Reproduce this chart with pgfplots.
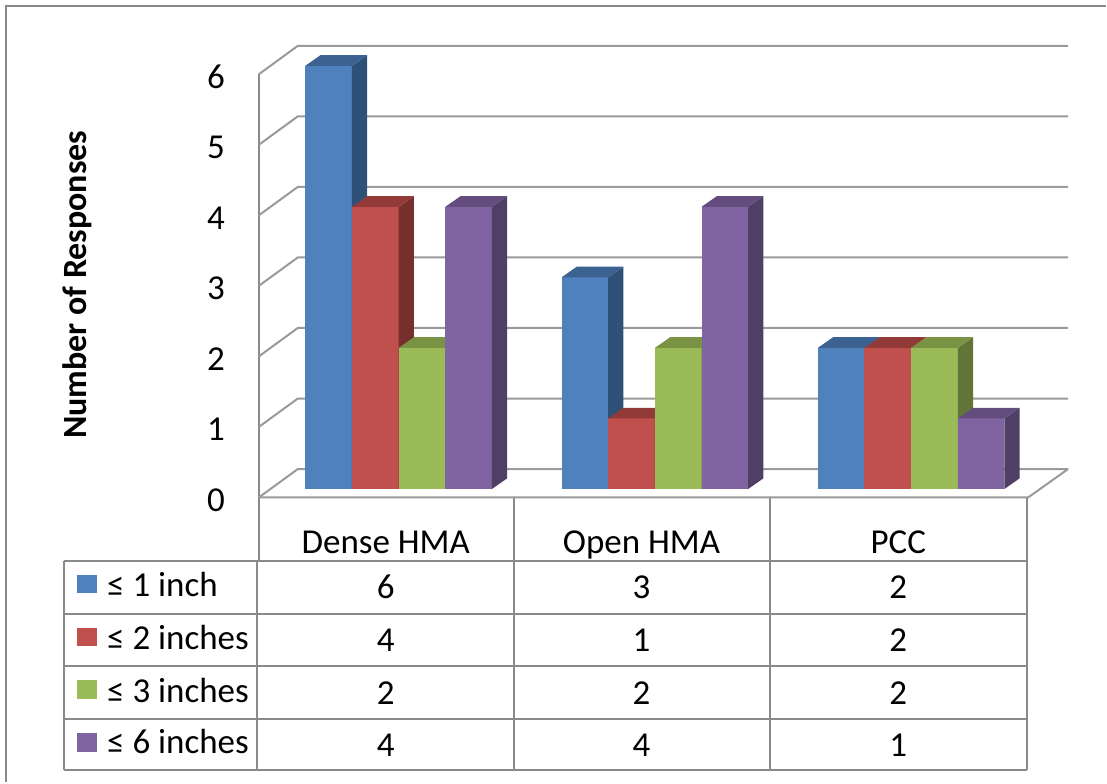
\documentclass[border=0pt]{standalone}
\usepackage{pgfplots}
\pgfplotsset{compat=1.18}
\usepackage{fontspec}
\setmainfont{Carlito}
\definecolor{bluef}{HTML}{4F81BD}\definecolor{bluet}{HTML}{3C6291}\definecolor{blues}{HTML}{2F5077}
\definecolor{redf}{HTML}{C0504D}\definecolor{redt}{HTML}{923A38}\definecolor{reds}{HTML}{772F2D}
\definecolor{greenf}{HTML}{9BBB59}\definecolor{greent}{HTML}{7A9244}\definecolor{greens}{HTML}{617539}
\definecolor{purplef}{HTML}{8064A2}\definecolor{purplet}{HTML}{634D7E}\definecolor{purples}{HTML}{4F3E66}
\definecolor{gridc}{HTML}{9A9A9A}
\definecolor{framec}{HTML}{8A8A8A}
% left edge, value, colour stem
\newcommand\tbar[3]{%
  \pgfmathsetmacro\xa{#1+46.7}\pgfmathsetmacro\xb{#1+46.7+15.3}\pgfmathsetmacro\xc{#1+15.3}%
  \pgfmathsetmacro\vb{#2+0.152}%
  \edef\tmp{\noexpand\addplot[fill=#3f,draw=none] coordinates {(#1,0)(#1,#2)(\xa,#2)(\xa,0)} --cycle;
  \noexpand\addplot[fill=#3s,draw=none] coordinates {(\xa,0)(\xa,#2)(\xb,\vb)(\xb,0.152)} --cycle;
  \noexpand\addplot[fill=#3t,draw=none] coordinates {(#1,#2)(\xa,#2)(\xb,\vb)(\xc,\vb)} --cycle;}%
  \tmp}
\begin{document}
\begin{tikzpicture}
% table, frame and its texts, in picture coordinates
\begin{axis}[name=tab,hide axis,scale only axis,width=1107pt,height=783pt,
  xmin=0,xmax=1107,ymin=0,ymax=783,y dir=reverse,clip=false]
\addplot[draw=none,forget plot] coordinates {(0,0)(1107,783)};
\fill[white] (axis cs:0,0) rectangle (axis cs:1107,783);
\draw[framec,line width=2pt] (axis cs:6,783) -- (axis cs:6,6) -- (axis cs:1107,6);
\begin{scope}[framec,line width=2pt]
\draw (axis cs:259,74) -- (axis cs:259,562);
\draw (axis cs:64,562) -- (axis cs:1028,562);
\draw (axis cs:64,614.5) -- (axis cs:1028,614.5);
\draw (axis cs:64,667) -- (axis cs:1028,667);
\draw (axis cs:64,719.5) -- (axis cs:1028,719.5);
\draw (axis cs:64,771) -- (axis cs:1028,771);
\draw (axis cs:64,562) -- (axis cs:64,771);
\draw (axis cs:257,562) -- (axis cs:257,771);
\draw (axis cs:514,498) -- (axis cs:514,771);
\draw (axis cs:771,498) -- (axis cs:771,771);
\draw (axis cs:1028,498) -- (axis cs:1028,771);
\end{scope}
\fill[bluef] (axis cs:77,576) rectangle (axis cs:97,594);
\fill[redf] (axis cs:77,628.5) rectangle (axis cs:97,647);
\fill[greenf] (axis cs:77,681) rectangle (axis cs:97,699.5);
\fill[purplef] (axis cs:77,734) rectangle (axis cs:97,752.5);
\tikzset{t/.style={font=\fontsize{35}{40}\selectfont,inner sep=0pt,anchor=base}}
\node[t,anchor=base west] at (axis cs:107,597) {≤ 1 inch};
\node[t,anchor=base west] at (axis cs:107,650) {≤ 2 inches};
\node[t,anchor=base west] at (axis cs:107,702.7) {≤ 3 inches};
\node[t,anchor=base west] at (axis cs:107,754.7) {≤ 6 inches};
\node[t] at (axis cs:386,553.7) {Dense HMA};
\node[t] at (axis cs:642,553.7) {Open HMA};
\node[t] at (axis cs:899,553.7) {PCC};
\node[t] at (axis cs:386,599) {6};\node[t] at (axis cs:642,599) {3};\node[t] at (axis cs:899,599) {2};
\node[t] at (axis cs:386,652) {4};\node[t] at (axis cs:642,652) {1};\node[t] at (axis cs:899,652) {2};
\node[t] at (axis cs:386,705) {2};\node[t] at (axis cs:642,705) {2};\node[t] at (axis cs:899,705) {2};
\node[t] at (axis cs:386,757) {4};\node[t] at (axis cs:642,757) {4};\node[t] at (axis cs:899,757) {1};
\end{axis}
% the 3-D bars: x in picture pixels, y in responses
\begin{axis}[at={(tab.south west)},anchor=south west,scale only axis,width=1107pt,height=783pt,
  xmin=0,xmax=1107,ymin=-4.157,ymax=6.933,clip=false,
  axis line style={draw=none},major tick length=0pt,
  xtick=\empty,ytick={0,1,2,3,4,5,6},
  /pgf/number format/assume math mode=true,
  yticklabel style={font=\fontsize{35}{40}\selectfont,anchor=center,inner sep=0pt,xshift=216pt,yshift=-11pt},
  every axis y label/.style={at={(axis description cs:0.0696,0.636)},rotate=90,anchor=center,
    font=\fontsize{34}{40}\selectfont\bfseries},
  ylabel={Number of Responses},no marks]
\pgfplotsinvokeforeach{0,1,2,3,4,5,6}{
  \addplot[gridc,line width=2pt] coordinates {(259,#1-0.12)(298,#1+0.283)(1069,#1+0.283)};
}
\addplot[gridc,line width=2pt] coordinates {(259,-0.12)(1029,-0.12)(1069,0.283)};
\tbar{305.5}{6}{blue}\tbar{352.2}{4}{red}\tbar{398.9}{2}{green}\tbar{445.6}{4}{purple}
\tbar{562}{3}{blue}\tbar{608.7}{1}{red}\tbar{655.4}{2}{green}\tbar{702.1}{4}{purple}
\tbar{818.5}{2}{blue}\tbar{865.2}{2}{red}\tbar{911.9}{2}{green}\tbar{958.6}{1}{purple}
\end{axis}
\end{tikzpicture}
\end{document}
